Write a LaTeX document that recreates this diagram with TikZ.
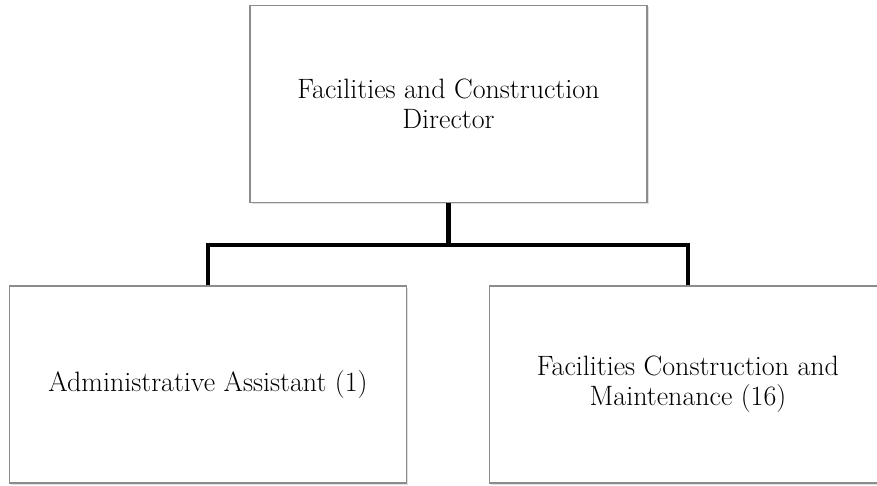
\documentclass[tikz,border=0pt]{standalone}
\usepackage{tikz}
\usetikzlibrary{shadows}

\tikzset{
  unit/.style={draw=black!45, line width=1.2pt, fill=white, minimum width=397pt,
    minimum height=197pt, align=center, font=\fontsize{28}{30}\selectfont,
    drop shadow={shadow xshift=1.5pt, shadow yshift=-1.5pt, opacity=0.25}},
  link/.style={line width=4.5pt}
}

\begin{document}
\begin{tikzpicture}[x=1pt, y=-1pt]
  \useasboundingbox (0,0) rectangle (877,485);
  \clip (0,0) rectangle (877,485);
  \node[unit] (dir) at (448.5,104) {Facilities and Construction\\Director};
  \node[unit] (asst) at (208,384.5) {Administrative Assistant (1)};
  \node[unit] (maint) at (688,384.5) {Facilities Construction and\\Maintenance (16)};
  \coordinate (bus) at (448.5,245);
  \draw[link] (dir.south) -- (bus);
  \draw[link] (bus) -| (asst.north);
  \draw[link] (bus) -| (maint.north);
\end{tikzpicture}
\end{document}
